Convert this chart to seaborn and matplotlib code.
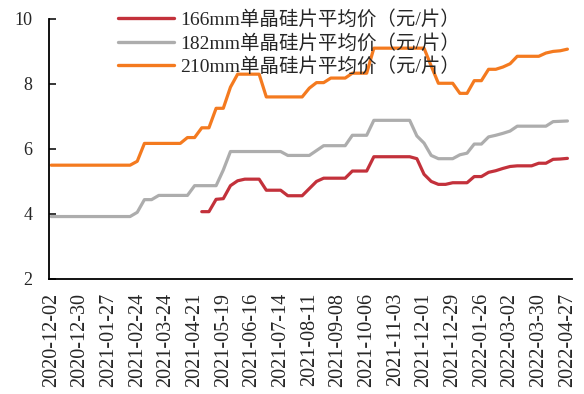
import numpy as np
import pandas as pd
import matplotlib
matplotlib.use("Agg")
import matplotlib.pyplot as plt
import seaborn as sns

# 周度数据（2020-12-02 ~ 2022-04-27），横轴每4周标一个日期
tick_labels = ["2020-12-02", "2020-12-30", "2021-01-27", "2021-02-24", "2021-03-24",
               "2021-04-21", "2021-05-19", "2021-06-16", "2021-07-14", "2021-08-11",
               "2021-09-08", "2021-10-06", "2021-11-03", "2021-12-01", "2021-12-29",
               "2022-01-26", "2022-03-02", "2022-03-30", "2022-04-27"]

nan = np.nan
price_166 = [nan, nan, nan, nan, nan, nan, nan, nan, nan, nan, nan, nan, nan, nan,
             nan, nan, nan, nan, nan, nan, nan,
             4.07, 4.07, 4.45, 4.47, 4.87, 5.02, 5.07, 5.07, 5.07, 4.73, 4.73, 4.73,
             4.56, 4.56, 4.56, 4.78, 5.0, 5.1, 5.1, 5.1, 5.1, 5.32, 5.32, 5.32,
             5.76, 5.76, 5.76, 5.76, 5.76, 5.76, 5.7, 5.22, 5.0, 4.91, 4.91,
             4.96, 4.96, 4.96, 5.15, 5.15, 5.28, 5.33, 5.4, 5.46, 5.48, 5.48, 5.48,
             5.56, 5.56, 5.68, 5.69, 5.71]

price_182 = [3.92, 3.92, 3.92, 3.92, 3.92, 3.92, 3.92, 3.92, 3.92, 3.92, 3.92, 3.92,
             4.05, 4.44, 4.44, 4.57, 4.57, 4.57, 4.57, 4.57, 4.87, 4.87, 4.87, 4.87,
             5.35, 5.92, 5.92, 5.92, 5.92, 5.92, 5.92, 5.92, 5.92, 5.8, 5.8, 5.8, 5.8,
             5.95, 6.1, 6.1, 6.1, 6.1, 6.42, 6.42, 6.42,
             6.88, 6.88, 6.88, 6.88, 6.88, 6.88, 6.4, 6.18, 5.8, 5.7, 5.7, 5.7,
             5.82, 5.87, 6.15, 6.15, 6.37, 6.42, 6.48, 6.55,
             6.7, 6.7, 6.7, 6.7, 6.7, 6.84, 6.85, 6.86]

price_210 = [5.5, 5.5, 5.5, 5.5, 5.5, 5.5, 5.5, 5.5, 5.5, 5.5, 5.5, 5.5,
             5.62, 6.17, 6.17, 6.17, 6.17, 6.17, 6.17, 6.35, 6.35, 6.65, 6.65,
             7.25, 7.25, 7.9, 8.3, 8.3, 8.3, 8.3, 7.6, 7.6, 7.6, 7.6, 7.6, 7.6,
             7.87, 8.04, 8.04, 8.18, 8.18, 8.18, 8.33, 8.33, 8.33,
             9.1, 9.1, 9.1, 9.1, 9.1, 9.1, 9.1, 9.1, 8.55, 8.02, 8.02, 8.02,
             7.71, 7.71, 8.1, 8.1, 8.45, 8.45, 8.52, 8.62, 8.85, 8.85, 8.85, 8.85,
             8.95, 9.0, 9.02, 9.07]

series_names = ["166mm单晶硅片平均价（元/片）",
                "182mm单晶硅片平均价（元/片）",
                "210mm单晶硅片平均价（元/片）"]
colors = ["#C3313B", "#ADADAD", "#F47A1F"]

week = np.arange(len(price_210))
df = pd.concat([
    pd.DataFrame({"week": week, "price": price_166, "name": series_names[0]}),
    pd.DataFrame({"week": week, "price": price_182, "name": series_names[1]}),
    pd.DataFrame({"week": week, "price": price_210, "name": series_names[2]}),
])
df = df.dropna()

sns.set_style("ticks")
plt.rcParams["font.family"] = ["Liberation Serif", "Noto Sans CJK SC"]

fig = plt.figure(figsize=(5.84, 3.94), dpi=100)
ax = fig.add_axes([0.084, 0.292, 0.895, 0.66])

sns.lineplot(data=df, x="week", y="price", hue="name", hue_order=series_names,
             palette=colors, linewidth=2.3, ax=ax, estimator=None)

ax.set_ylim(2, 10)
ax.set_yticks([2, 4, 6, 8, 10])
ax.set_xlim(-0.3, 72.6)
ax.set_xticks(np.arange(0, 73, 4))
ax.set_xticklabels(tick_labels, rotation=90)
ax.tick_params(axis="y", direction="in", length=5, width=1.3, labelsize=13, pad=12)
ax.tick_params(axis="x", length=0, labelsize=14.5, pad=10)
ax.set_xlabel("")
ax.set_ylabel("")
sns.despine(ax=ax)
for s in ["left", "bottom"]:
    ax.spines[s].set_linewidth(1.3)
    ax.spines[s].set_color("black")

ax.legend_.remove()
leg = fig.legend(loc="upper left", bbox_to_anchor=(0.178, 1.01), frameon=False,
                 fontsize=14, handlelength=2.9, handletextpad=0.3, labelspacing=0.26,
                 borderpad=0.2)
for line in leg.get_lines():
    line.set_linewidth(2.4)

plt.savefig("out.png", dpi=100)
